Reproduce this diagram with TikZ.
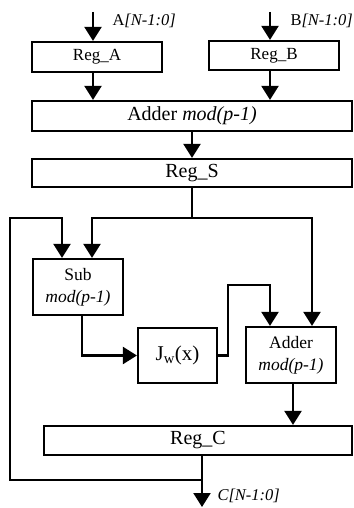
\documentclass[tikz,border=0pt]{standalone}
\usepackage{fontspec}
\setmainfont{Liberation Serif}
\usetikzlibrary{positioning,arrows.meta,calc}
\tikzset{
  node-box/.style={draw=black,line width=2.2pt,inner sep=0pt,align=center},
  font-reg/.style={font=\fontsize{17}{19}\selectfont},
  font-big/.style={font=\fontsize{20}{22}\selectfont},
  font-unit/.style={font=\fontsize{17.5}{22}\selectfont},
  font-lab/.style={font=\fontsize{16.5}{18}\selectfont},
  wire/.style={line width=2.2pt},
  arrow/.style={-{Triangle[length=14pt,width=17pt]},line width=2.2pt},
}

\begin{document}
\begin{tikzpicture}[x=1pt,y=-1pt]
  \useasboundingbox (0,0) rectangle (353,508);

  % registers and units
  \node[node-box,font-reg,minimum width=130pt,minimum height=30pt] (rega) at (97,57) {Reg\_A};
  \node[node-box,font-reg,minimum width=130pt,minimum height=29pt] (regb) at (274,55.5) {Reg\_B};
  \node[node-box,font-big,minimum width=320pt,minimum height=30pt] (add1) at (192,116) {Adder \textit{mod(p-1)}};
  \node[node-box,font-big,minimum width=320pt,minimum height=28pt] (regs) at (192,173) {Reg\_S};
  \node[node-box,font-unit,minimum width=90pt,minimum height=56pt] (sub) at (78,287) {Sub\\ \textit{mod(p-1)}};
  \node[node-box,font-big,font=\fontsize{21}{23}\selectfont,minimum width=79pt,minimum height=55pt] (jw) at (177.5,355.5) {J\textsubscript{w}(x)};
  \node[node-box,font-unit,minimum width=90pt,minimum height=56pt] (add2) at (291,355) {Adder\\ \textit{mod(p-1)}};
  \node[node-box,font-big,minimum width=308pt,minimum height=29pt] (regc) at (198,440.5) {Reg\_C};

  % inputs
  \coordinate (ina) at (93,12);
  \coordinate (inb) at (270,12);
  \node[anchor=west,font-lab] (lbla) at (109,21) {A\textit{[N-1:0]}};
  \node[anchor=west,font-lab] (lblb) at (287,21) {B\textit{[N-1:0]}};
  \draw[arrow] (ina) -- (ina |- rega.north);
  \draw[arrow] (inb) -- (inb |- regb.north);
  \draw[arrow] (rega.south -| ina) -- (add1.north -| ina);
  \draw[arrow] (regb.south -| inb) -- (add1.north -| inb);
  \draw[arrow] (add1.south) -- (regs.north);

  % Reg_S fan-out
  \coordinate (split) at (192,218);
  \coordinate (subr) at ([xshift=14pt]sub.north);
  \coordinate (addr) at ([xshift=21pt]add2.north);
  \draw[wire] (regs.south) -- (split);
  \draw[arrow] (split) -| (subr);
  \draw[arrow] (split) -| (addr);

  % Sub -> Jw -> Adder
  \coordinate (subo) at ([xshift=4pt]sub.south);
  \draw[arrow] (subo) |- (jw.west);
  \coordinate (jwup) at (228,285);
  \coordinate (addl) at ([xshift=-21pt]add2.north);
  \draw[arrow] (jw.east) -| (jwup) -| (addl);
  \coordinate (addo) at ([xshift=2pt]add2.south);
  \draw[arrow] (addo) -- (addo |- regc.north);

  % output and feedback
  \coordinate (out) at (202,507);
  \coordinate (fb) at (202,480);
  \coordinate (subl) at ([xshift=-16pt]sub.north);
  \node[anchor=west,font-lab] (lblc) at (214,496) {\textit{C[N-1:0]}};
  \draw[arrow] (regc.south -| out) -- (out);
  \draw[arrow] (fb) -- (10,480) -- (10,218) -| (subl);
\end{tikzpicture}
\end{document}
